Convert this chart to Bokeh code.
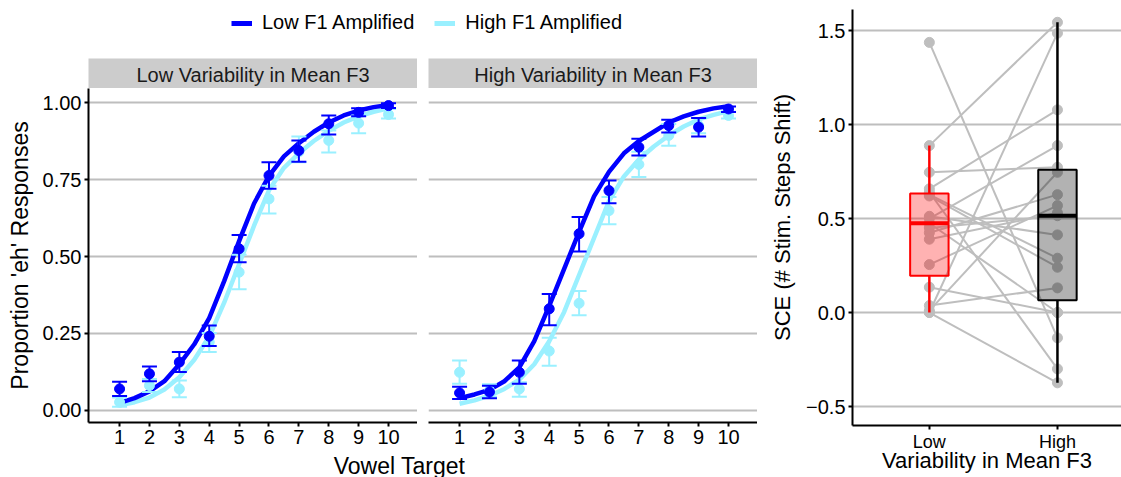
from bokeh.plotting import figure
from bokeh.layouts import row, column
from bokeh.models import Range1d, FixedTicker, Label, Legend, LegendItem
from bokeh.embed import file_html
from bokeh.resources import INLINE
import numpy as np

FONT = "Liberation Sans"
DARK = "#0000FF"
LIGHT = "#9AF0FF"
GRID = "#BEBEBE"
PAIR = "#BEBEBE"

# ---------------- data ----------------
series_names = ["Low F1 Amplified", "High F1 Amplified"]
panel_names = ["Low Variability in Mean F3", "High Variability in Mean F3"]
steps = [1, 2, 3, 4, 5, 6, 7, 8, 9, 10]
prop_ticks = [0.0, 0.25, 0.5, 0.75, 1.0]
prop_tick_labels = ["0.00", "0.25", "0.50", "0.75", "1.00"]

# Low variability panel
lowvar_lowf1_mean = [0.070, 0.119, 0.157, 0.241, 0.525, 0.763, 0.844, 0.931, 0.968, 0.990]
lowvar_lowf1_lo = [0.047, 0.095, 0.125, 0.209, 0.481, 0.720, 0.808, 0.896, 0.955, 0.982]
lowvar_lowf1_hi = [0.093, 0.143, 0.190, 0.276, 0.570, 0.806, 0.877, 0.958, 0.981, 0.998]
lowvar_highf1_mean = [0.027, 0.081, 0.070, 0.222, 0.449, 0.687, 0.840, 0.877, 0.933, 0.961]
lowvar_highf1_lo = [0.012, 0.060, 0.043, 0.190, 0.394, 0.640, 0.806, 0.838, 0.900, 0.948]
lowvar_highf1_hi = [0.042, 0.102, 0.097, 0.252, 0.506, 0.730, 0.890, 0.909, 0.958, 0.979]

# High variability panel
highvar_lowf1_mean = [0.057, 0.060, 0.124, 0.330, 0.574, 0.714, 0.855, 0.925, 0.920, 0.979]
highvar_lowf1_lo = [0.037, 0.040, 0.087, 0.277, 0.516, 0.673, 0.828, 0.903, 0.890, 0.969]
highvar_lowf1_hi = [0.077, 0.080, 0.162, 0.378, 0.628, 0.747, 0.882, 0.944, 0.950, 0.987]
highvar_highf1_mean = [0.124, 0.065, 0.070, 0.193, 0.348, 0.649, 0.799, 0.893, 0.925, 0.958]
highvar_highf1_lo = [0.087, 0.045, 0.045, 0.145, 0.309, 0.605, 0.758, 0.860, 0.900, 0.948]
highvar_highf1_hi = [0.162, 0.085, 0.092, 0.236, 0.388, 0.693, 0.840, 0.930, 0.950, 0.970]

# fitted psychometric curves
fit_x = [1.0, 1.5, 2.0, 2.5, 3.0, 3.5, 4.0, 4.5, 5.0, 5.5, 6.0, 6.5, 7.0, 7.5, 8.0, 8.5, 9.0, 9.5, 10.0]
fit_lowvar_lowf1 = [0.025, 0.040, 0.062, 0.095, 0.150, 0.215, 0.300, 0.420, 0.550, 0.672, 0.762, 0.825,
                    0.868, 0.905, 0.935, 0.958, 0.974, 0.985, 0.992]
fit_lowvar_highf1 = [0.017, 0.027, 0.042, 0.068, 0.108, 0.165, 0.240, 0.350, 0.475, 0.600, 0.715, 0.788,
                     0.835, 0.875, 0.908, 0.935, 0.955, 0.970, 0.981]
fit_highvar_lowf1 = [0.040, 0.052, 0.067, 0.095, 0.140, 0.225, 0.340, 0.460, 0.580, 0.695, 0.775, 0.835,
                     0.875, 0.905, 0.935, 0.955, 0.970, 0.981, 0.988]
fit_highvar_highf1 = [0.022, 0.033, 0.048, 0.070, 0.100, 0.150, 0.225, 0.320, 0.440, 0.560, 0.680, 0.760,
                      0.815, 0.857, 0.893, 0.922, 0.945, 0.960, 0.972]

# SCE per participant (paired)
conditions = ["Low", "High"]
sce_low = [1.437, 0.888, 0.746, 0.658, 0.0, 0.0, 0.50, 0.255, 0.135, 0.037,
           0.01, 0.64, 0.627, 0.62, 0.512, 0.475, 0.45, 0.424, 0.39]
sce_high = [-0.135, 1.544, 0.773, 1.078, 1.486, -0.374, 0.888, 0.569, 0.0, 0.131,
            0.746, -0.30, 0.289, 0.241, 0.413, 0.0, 0.515, 0.627, 0.53]
sce_ticks = [-0.5, 0.0, 0.5, 1.0, 1.5]
sce_tick_labels = ["\u22120.5", "0.0", "0.5", "1.0", "1.5"]


def style_axis(ax, size="20px"):
    ax.axis_line_width = 2
    ax.axis_line_color = "black"
    ax.major_tick_line_width = 2
    ax.major_tick_line_color = "black"
    ax.major_tick_out = 4
    ax.major_tick_in = 0
    ax.minor_tick_line_color = None
    ax.major_label_text_font = FONT
    ax.major_label_text_font_size = size
    ax.major_label_text_color = "black"
    ax.major_label_standoff = 3
    ax.axis_label_text_font = FONT
    ax.axis_label_text_font_style = "normal"
    ax.axis_label_text_color = "black"


def make_panel(width, left, show_y, series):
    p = figure(width=width, height=366, x_range=Range1d(-0.04, 10.97), y_range=Range1d(-0.039, 1.0455),
               output_backend="svg", toolbar_location=None, min_border=0, min_border_left=left,
               min_border_bottom=32, y_axis_location="left" if show_y else None)
    p.outline_line_color = None
    p.xgrid.visible = False
    p.ygrid.ticker = FixedTicker(ticks=prop_ticks)
    p.ygrid.grid_line_color = GRID
    p.ygrid.grid_line_width = 2
    xa = p.xaxis[0]
    xa.ticker = FixedTicker(ticks=steps)
    style_axis(xa)
    if show_y:
        ya = p.yaxis[0]
        ya.ticker = FixedTicker(ticks=prop_ticks)
        ya.major_label_overrides = dict(zip(prop_ticks, prop_tick_labels))
        style_axis(ya)
        ya.axis_label = "Proportion 'eh' Responses"
        ya.axis_label_text_font_size = "23px"
        ya.axis_label_standoff = 7
    # curves: light first, dark on top
    for fit, col in [(series[1][3], LIGHT), (series[0][3], DARK)]:
        p.line(fit_x, fit, line_color=col, line_width=4.5, line_join="round")
    for (mean, lo, hi, fit), col in [(series[1], LIGHT), (series[0], DARK)]:
        p.segment(x0=steps, y0=lo, x1=steps, y1=hi, line_color=col, line_width=2)
        p.scatter(steps + steps, lo + hi, marker="dash", size=15, line_color=col, line_width=2)
        p.scatter(steps, mean, size=10, fill_color=col, line_color=col)
    return p


def make_strip(width, left, text):
    s = figure(width=width, height=30, x_range=Range1d(0, 1), y_range=Range1d(0, 1),
               output_backend="svg", toolbar_location=None, min_border=0, min_border_left=left,
               x_axis_location=None, y_axis_location=None)
    s.grid.visible = False
    s.outline_line_color = None
    s.background_fill_color = "#CCCCCC"
    s.add_layout(Label(x=0.5, y=0.45, text=text, text_align="center", text_baseline="middle",
                       text_font=FONT, text_font_size="20px", text_color="#1A1A1A"))
    return s


low_series = [(lowvar_lowf1_mean, lowvar_lowf1_lo, lowvar_lowf1_hi, fit_lowvar_lowf1),
              (lowvar_highf1_mean, lowvar_highf1_lo, lowvar_highf1_hi, fit_lowvar_highf1)]
high_series = [(highvar_lowf1_mean, highvar_lowf1_lo, highvar_lowf1_hi, fit_highvar_lowf1),
               (highvar_highf1_mean, highvar_highf1_lo, highvar_highf1_hi, fit_highvar_highf1)]

LEFT_W = 757
p1 = make_panel(417, 88, True, low_series)
p2 = make_panel(340, 11, False, high_series)
s1 = make_strip(417, 88, panel_names[0])
s2 = make_strip(340, 11, panel_names[1])

# legend row (swatches only; the dummy lines carry no visible data)
leg = figure(width=LEFT_W, height=58, x_range=Range1d(0, 1), y_range=Range1d(0, 1), output_backend="svg",
             toolbar_location=None, min_border=0, x_axis_location=None, y_axis_location=None)
leg.grid.visible = False
leg.outline_line_color = None
r_dark = leg.line([np.nan, np.nan], [np.nan, np.nan], line_color=DARK, line_width=5)
r_light = leg.line([np.nan, np.nan], [np.nan, np.nan], line_color=LIGHT, line_width=5)
legend = Legend(items=[LegendItem(label=series_names[0], renderers=[r_dark]),
                       LegendItem(label=series_names[1], renderers=[r_light])],
                orientation="horizontal", location=(231, 24), padding=0, margin=0, spacing=20,
                glyph_width=21, glyph_height=20, label_standoff=10, label_text_font=FONT,
                label_text_font_size="20px", label_text_color="black", border_line_color=None,
                background_fill_alpha=0)
leg.add_layout(legend, "center")

# shared x label
xl = figure(width=LEFT_W, height=23, x_range=Range1d(0, LEFT_W), y_range=Range1d(0, 23), output_backend="svg",
            toolbar_location=None, min_border=0, x_axis_location=None, y_axis_location=None)
xl.grid.visible = False
xl.outline_line_color = None
xl.add_layout(Label(x=399, y=12, text="Vowel Target", text_align="center", text_baseline="middle",
                    text_font=FONT, text_font_size="23px", text_color="black"))

# right panel
p3 = figure(width=364, height=477, x_range=Range1d(0.4, 2.5), y_range=Range1d(-0.601, 1.612),
            output_backend="svg", toolbar_location=None, min_border=0, min_border_left=95,
            min_border_top=9, min_border_bottom=52)
p3.outline_line_color = None
p3.xgrid.visible = False
p3.ygrid.ticker = FixedTicker(ticks=sce_ticks)
p3.ygrid.grid_line_color = GRID
p3.ygrid.grid_line_width = 2
ya3 = p3.yaxis[0]
ya3.ticker = FixedTicker(ticks=sce_ticks)
ya3.major_label_overrides = dict(zip(sce_ticks, sce_tick_labels))
style_axis(ya3)
ya3.axis_label = "SCE (# Stim. Steps Shift)"
ya3.axis_label_text_font_size = "22px"
ya3.axis_label_standoff = 8
xa3 = p3.xaxis[0]
cond_pos = [1, 2]
xa3.ticker = FixedTicker(ticks=cond_pos)
xa3.major_label_overrides = dict(zip(cond_pos, conditions))
style_axis(xa3, "18px")
xa3.major_label_standoff = 2
xa3.axis_label = "Variability in Mean F3"
xa3.axis_label_text_font_size = "22px"
xa3.axis_label_standoff = -7

n = len(sce_low)
p3.multi_line(xs=[[cond_pos[0], cond_pos[1]] for _ in range(n)],
              ys=[[a, b] for a, b in zip(sce_low, sce_high)], line_color=PAIR, line_width=2)
p3.scatter([cond_pos[0]] * n, sce_low, size=10, fill_color=PAIR, line_color=PAIR)
p3.scatter([cond_pos[1]] * n, sce_high, size=10, fill_color=PAIR, line_color=PAIR)

box_w = 0.3
for xpos, vals, col in [(cond_pos[0], sce_low, "#FF0000"), (cond_pos[1], sce_high, "#000000")]:
    arr = np.array(vals)
    q1, med, q3 = np.percentile(arr, [25, 50, 75])
    iqr = q3 - q1
    wlo = arr[arr >= q1 - 1.5 * iqr].min()
    whi = arr[arr <= q3 + 1.5 * iqr].max()
    p3.segment(x0=[xpos, xpos], y0=[q3, q1], x1=[xpos, xpos], y1=[whi, wlo], line_color=col, line_width=2.5)
    p3.vbar(x=[xpos], bottom=[q1], top=[q3], width=box_w, fill_color=col, fill_alpha=0.3,
            line_color=col, line_width=2)
    p3.segment(x0=[xpos - box_w / 2], y0=[med], x1=[xpos + box_w / 2], y1=[med], line_color=col, line_width=4)

left = column(leg, row(s1, s2), row(p1, p2), xl)
layout = row(left, p3)

open("out.html", "w").write(file_html(layout, INLINE))
